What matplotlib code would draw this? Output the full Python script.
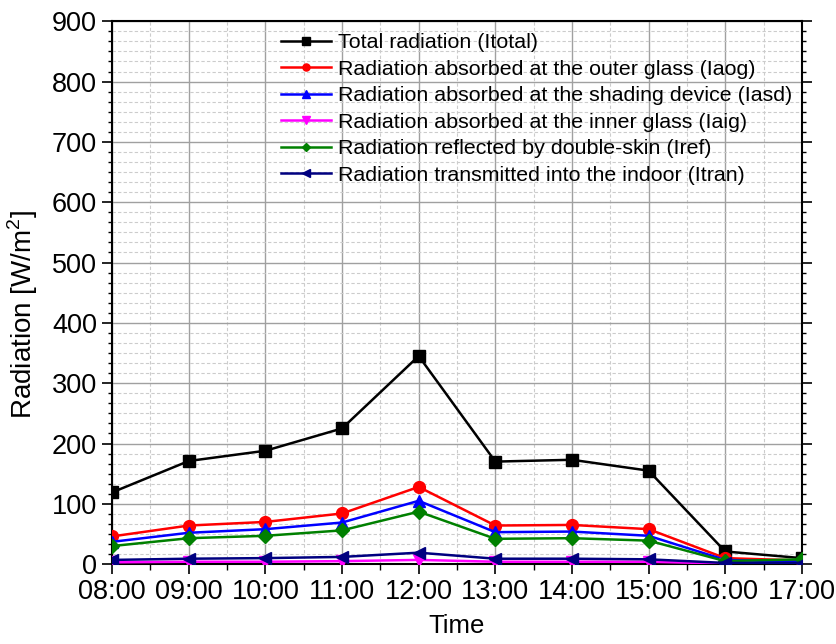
import matplotlib
matplotlib.use('Agg')
import matplotlib.pyplot as plt
from matplotlib.ticker import MultipleLocator, AutoMinorLocator

plt.rcParams['font.family'] = ['Liberation Sans', 'DejaVu Sans']
plt.rcParams['mathtext.fontset'] = 'custom'
plt.rcParams['mathtext.rm'] = 'Liberation Sans'

# data
times = ['08:00', '09:00', '10:00', '11:00', '12:00',
         '13:00', '14:00', '15:00', '16:00', '17:00']
total = [119, 171, 188, 225, 345, 170, 173, 155, 21, 10]
outer_glass = [46, 64, 70, 84, 128, 64, 65, 58, 10, 6]
shading = [37, 52, 58, 69, 105, 53, 54, 47, 7, 4]
inner_glass = [3, 4, 4, 5, 7, 4, 4, 4, 1, 1]
reflected = [30, 43, 47, 56, 87, 42, 43, 39, 5, 8]
transmitted = [7, 9, 10, 12, 19, 9, 9, 8, 2, 2]

series = [
    (total, 'Total radiation (Itotal)', 'black', 's'),
    (outer_glass, 'Radiation absorbed at the outer glass (Iaog)', 'red', 'o'),
    (shading, 'Radiation absorbed at the shading device (Iasd)', 'blue', '^'),
    (inner_glass, 'Radiation absorbed at the inner glass (Iaig)', 'magenta', 'v'),
    (reflected, 'Radiation reflected by double-skin (Iref)', 'green', 'D'),
    (transmitted, 'Radiation transmitted into the indoor (Itran)', 'navy', '<'),
]

fig, ax = plt.subplots(figsize=(8.37, 6.44), dpi=100)
fig.subplots_adjust(left=0.134, right=0.958, top=0.967, bottom=0.124)

x = list(range(len(times)))
for vals, label, color, marker in series:
    ms = 7.5 if marker == 'D' else 8.5
    ax.plot(x, vals, color=color, marker=marker, markersize=ms,
            linewidth=1.8, label=label, zorder=3)

ax.set_xlim(0, len(times) - 1)
ax.set_ylim(0, 900)
ax.set_xticks(x)
ax.set_xticklabels(times)
ax.xaxis.set_minor_locator(AutoMinorLocator(2))
ax.yaxis.set_major_locator(MultipleLocator(100))
ax.yaxis.set_minor_locator(AutoMinorLocator(6))

ax.grid(which='major', color='#a0a0a0', linewidth=1.0, linestyle='-', zorder=0)
ax.grid(which='minor', color='#cccccc', linewidth=0.8, linestyle=(0, (3, 2)), zorder=0)
ax.set_axisbelow(True)

ax.tick_params(which='major', direction='out', length=7, width=1.2,
               labelsize=19.5, pad=4)
ax.tick_params(which='minor', direction='out', length=4, width=1.0)
ax.tick_params(axis='x', which='both', top=False)
ax.tick_params(axis='y', which='both', right=True, labelright=False)
ax.tick_params(axis='y', which='minor', right=True, length=3)

for sp in ax.spines.values():
    sp.set_linewidth(1.5)
    sp.set_color('black')

ax.set_xlabel('Time', fontsize=18.5, labelpad=6)
ax.set_ylabel('Radiation [W/m$^2$]', fontsize=20)
ax.yaxis.set_label_coords(-0.105, 0.461)

ax.legend(loc='upper left', bbox_to_anchor=(0.245, 0.978), frameon=False,
          fontsize=15.4, handlelength=2.35, handletextpad=0.3, labelspacing=0.35,
          markerscale=0.6, borderaxespad=0, borderpad=0)

fig.savefig('out.png', dpi=100)
